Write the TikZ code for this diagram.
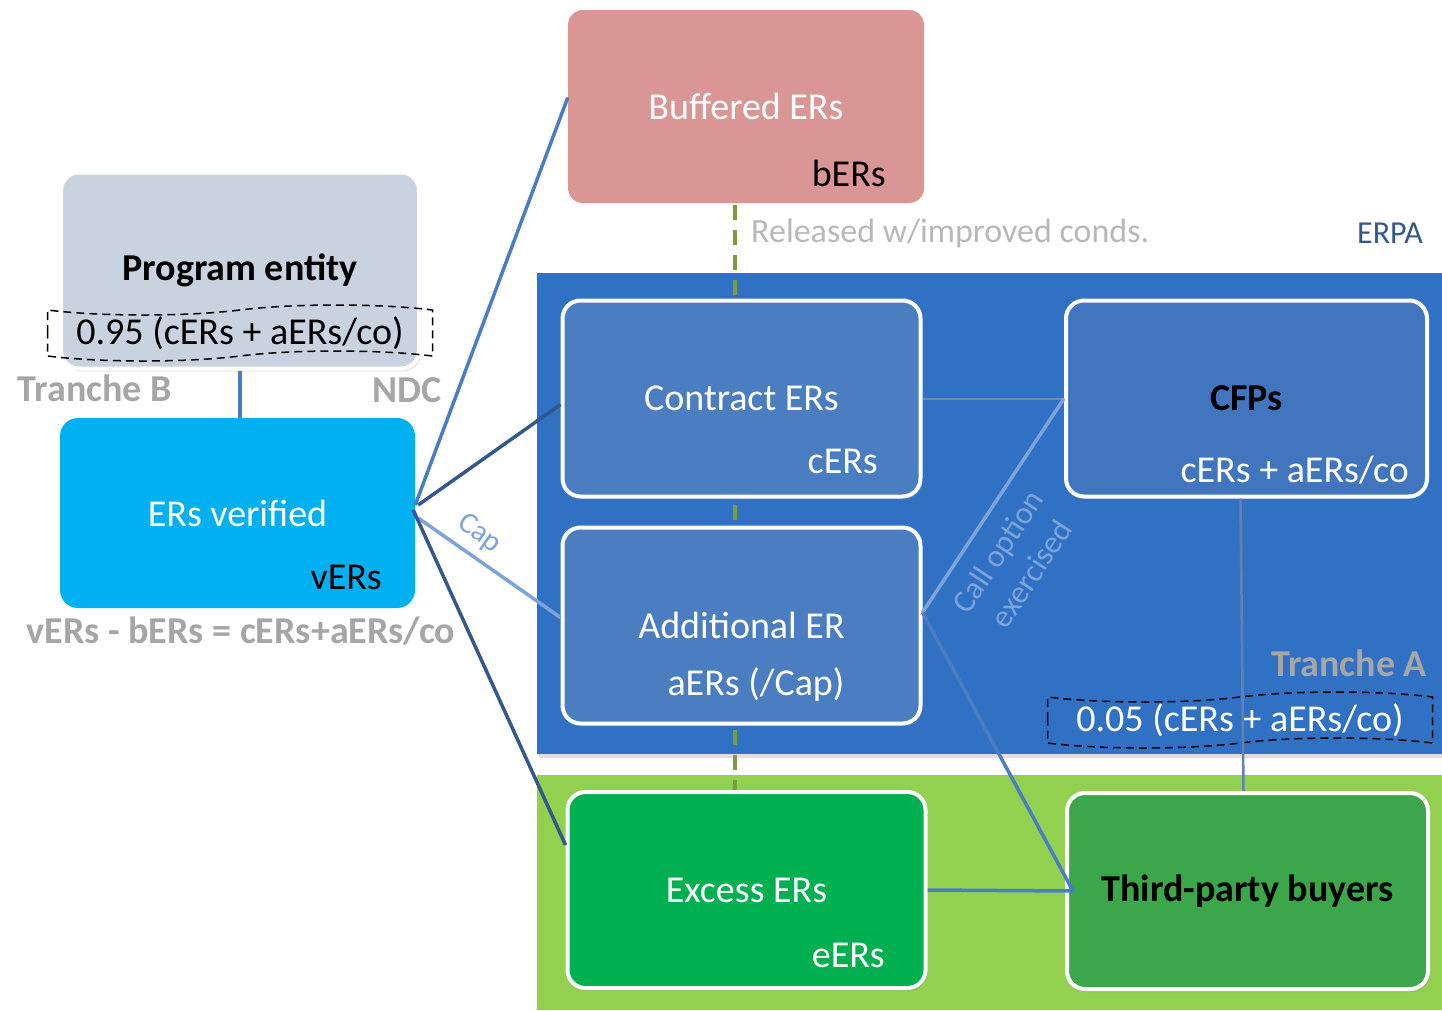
\documentclass[tikz,border=0pt]{standalone}
\usepackage{fontspec}
\setmainfont{Carlito}
\usetikzlibrary{shapes.symbols}
\usetikzlibrary{shadows}
\definecolor{bufpink}{HTML}{D99694}
\definecolor{pegrey}{HTML}{C9D2DF}
\definecolor{verscyan}{HTML}{00B0F0}
\definecolor{erpablue}{HTML}{3171C4}
\definecolor{erblue}{HTML}{4A7EC1}
\definecolor{cfpblue}{HTML}{4176BF}
\definecolor{leafgreen}{HTML}{92D050}
\definecolor{excgreen}{HTML}{00B050}
\definecolor{buygreen}{HTML}{3BA64A}
\definecolor{tranchegrey}{HTML}{A6A6A6}
\definecolor{linkmid}{HTML}{4A7EC1}
\definecolor{linkdark}{HTML}{34578C}
\definecolor{linklight}{HTML}{7DA3DB}
\definecolor{releaseolive}{HTML}{7F9A3B}
\begin{document}
\begin{tikzpicture}[x=1pt,y=-1pt,
    box/.style={rounded corners=18pt,minimum width=358pt,minimum height=196pt,inner sep=0pt,
      font=\fontsize{38}{44}\selectfont,text=white},
    erbox/.style={box,draw=white,line width=4pt,fill=erblue,
      drop shadow={opacity=0.25,shadow xshift=2pt,shadow yshift=-3pt}},
    sub/.style={font=\fontsize{38}{44}\selectfont,text=white,inner sep=0pt,anchor=east},
    tranche/.style={font=\bfseries\fontsize{38}{44}\selectfont,text=tranchegrey,inner sep=0pt},
    share/.style={tape,draw=black,line width=1.5pt,dash pattern=on 8pt off 5pt,
      tape bend top=in and out,tape bend bottom=in and out,tape bend height=10pt,
      minimum width=385pt,minimum height=56pt,inner sep=0pt,font=\fontsize{38}{44}\selectfont},
    link/.style={line width=3.5pt}]

    \useasboundingbox (0,0) rectangle (1442,1010);

    % regions
    \fill[erpablue,drop shadow={opacity=0.25,shadow xshift=2pt,shadow yshift=-4pt}] (537,273) rectangle (1442,754);
    \fill[leafgreen] (537,775) rectangle (1442,1010);

    % release line
    \draw[releaseolive,line width=4pt,dash pattern=on 15pt off 10pt] (735,205) -- (735,790);

    % boxes
    \node[box,fill=bufpink,rounded corners=15pt,minimum width=356pt,minimum height=193pt] (buf) at (746,106.5) {Buffered ERs};
    \node[box,fill=pegrey,draw=white,line width=4pt,text=black,font=\bfseries\fontsize{38}{44}\selectfont,
      drop shadow={opacity=0.2,shadow xshift=2pt,shadow yshift=-3pt}] (pe) at (240,270.5) {Program entity};
    \node[box,fill=verscyan,minimum width=355pt,minimum height=190pt] (vers) at (237.5,513) {ERs verified};
    \node[erbox] (contract) at (741.5,398.5) {Contract ERs};
    \node[erbox] (add) at (741.5,625.5) {Additional ER};
    \node[erbox,fill=cfpblue,minimum width=361pt,text=black,font=\bfseries\fontsize{38}{44}\selectfont] (cfps) at (1246.5,398.5) {CFPs};
    \node[erbox,fill=excgreen] (excess) at (746.5,890) {Excess ERs};
    \node[erbox,fill=buygreen,minimum width=361pt,text=black,font=\bfseries\fontsize{38}{44}\selectfont] (third) at (1247.5,891) {Third-party buyers};

    % short names
    \node[sub,text=black] (bers) at (886,173) {bERs};
    \node[sub,text=black] (verssub) at (382,577) {vERs};
    \node[sub] (cers) at (878,461) {cERs};
    \node[sub,anchor=center] (aers) at (756,685) {aERs (/Cap)};
    \node[sub] (cfpssub) at (1409,470) {cERs + aERs/co};
    \node[sub] (eers) at (885,955) {eERs};

    % tranches
    \node[share] (shareb) at (240,333) {0.95 (cERs + aERs/co)};
    \node[share,text=white] (sharea) at (1240,720) {0.05 (cERs + aERs/co)};
    \node[tranche] (trancheb) at (95,388) {Tranche B};
    \node[tranche] (ndc) at (407,390) {NDC};
    \node[tranche] (balance) at (241,631) {vERs - bERs = cERs+aERs/co};
    \node[tranche] (tranchea) at (1349,663) {Tranche A};
    \node[font=\fontsize{34}{40}\selectfont,text=tranchegrey!80,inner sep=0pt,anchor=west] (released) at (751,233) {Released w/improved conds.};
    \node[font=\fontsize{32}{38}\selectfont,text=linkdark,inner sep=0pt] (erpa) at (1390,233) {ERPA};

    % connectors
    \draw[link,linkmid] (pe.south) -- (pe.south |- vers.north);
    \draw[link,linkmid] ([yshift=8pt]vers.east) -- ([yshift=9pt]buf.west);
    \draw[link,linkdark] ([xshift=3pt,yshift=8pt]vers.east) -- ([yshift=-6pt]contract.west);
    \draw[link,linklight] ([xshift=3pt,yshift=-5pt]vers.east) -- ([yshift=8pt]add.west)
      node[pos=0.34,sloped,above=8pt,font=\fontsize{30}{36}\selectfont,text=linklight,inner sep=0pt] (cap) {Cap};
    \draw[link,linkdark] ([xshift=-2pt,yshift=3pt]vers.east) -- ([yshift=45pt]excess.west);
    \draw[line width=2pt,linkdark!70] (contract.east) -- (cfps.west);
    \draw[link,linklight] ([yshift=13pt]add.east) -- (cfps.west)
      node[pos=0.36,sloped,below=16pt,align=center,font=\fontsize{32}{40}\selectfont,text=linklight,inner sep=0pt] (call) {Call option\\exercised};
    \draw[link,linkmid] ([yshift=13pt]add.east) -- ([xshift=8pt]third.west);
    \draw[link,linkmid] (excess.east) -- ([xshift=8pt]third.west);
    \draw[line width=2.5pt,linklight!80!black] ([xshift=-6pt]cfps.south) -- ([xshift=-4pt]third.north);

\end{tikzpicture}
\end{document}
